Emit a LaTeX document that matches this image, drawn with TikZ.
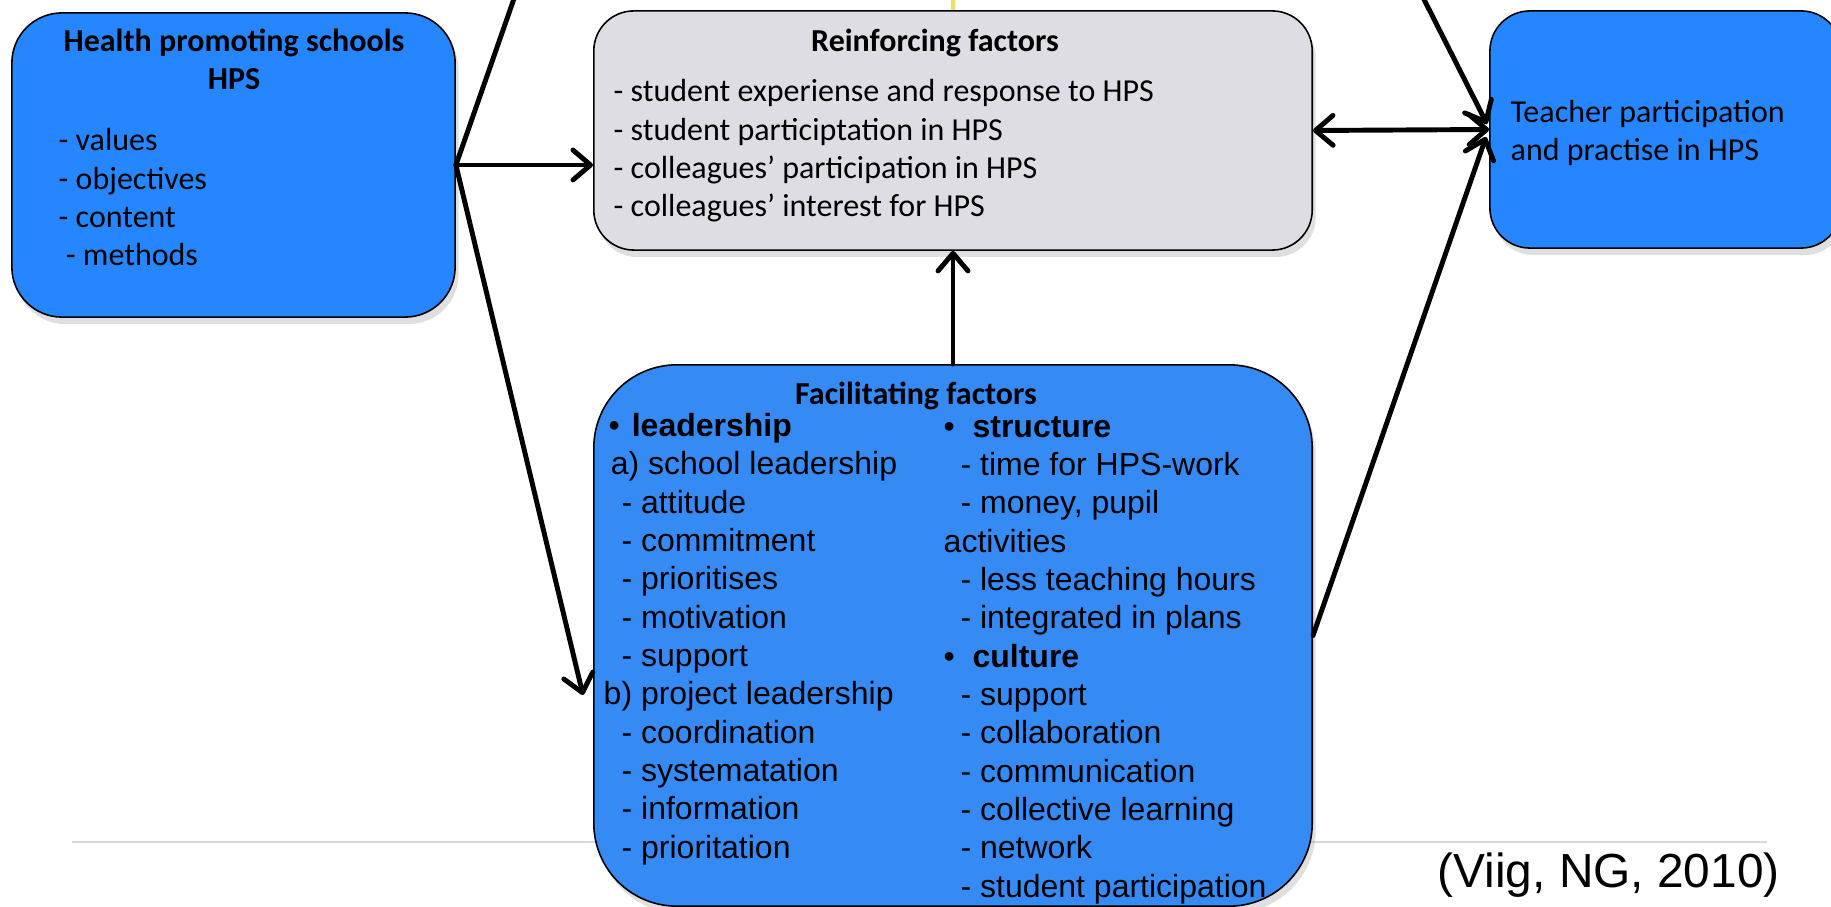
\documentclass[tikz,border=0pt]{standalone}
\usepackage{fontspec}
\setmainfont{Carlito}
\newfontfamily\arialfont{Liberation Sans}
\usetikzlibrary{arrows.meta,shadows}

\definecolor{hpsblue}{RGB}{38,134,255}
\definecolor{factblue}{RGB}{54,138,243}
\definecolor{reinfgray}{RGB}{222,221,227}
\definecolor{rulegray}{RGB}{217,217,217}
\definecolor{linkyellow}{RGB}{240,224,90}

\newcommand{\calsize}{\fontsize{9.1pt}{10.9pt}\selectfont}
\newcommand{\arsize}{\arialfont\fontsize{9.1pt}{10.9pt}\selectfont}
\newcommand{\ind}[1]{\hspace*{#1}}

\tikzset{
    >={Straight Barb[length=5pt,width=8.5pt,round]},
    box/.style={draw, line width=0.45pt, rounded corners=#1, inner sep=0pt,
        drop shadow={shadow xshift=1pt, shadow yshift=-2pt, opacity=0.25}},
    conn/.style={line width=1.4pt, line cap=round},
    % base of a multi-line node sits on its last line
    ttl/.style={inner sep=0pt, anchor=base, align=center, font=\calsize\bfseries},
    txt/.style={inner sep=0pt, anchor=base west, align=left, font=\calsize},
    artxt/.style={inner sep=0pt, anchor=base west, align=left, font=\arsize}
}

\begin{document}
\begin{tikzpicture}[x=0.01cm, y=-0.01cm]
        \useasboundingbox (0,0) rectangle (1831,907);

        % rule under the slide
        \draw[rulegray, line width=0.85pt] (72,842) -- (1767,842);

        % boxes
        \node[box=0.5cm, fill=hpsblue, minimum width=4.43cm, minimum height=3.04cm] (hps) at (233.5,165) {};
        \node[box=0.4cm, fill=reinfgray, minimum width=7.18cm, minimum height=2.39cm] (reinf) at (953,130.5) {};
        \node[box=0.4cm, fill=hpsblue, minimum width=3.51cm, minimum height=2.37cm] (teach) at (1665.5,129.5) {};
        \node[box=0.83cm, fill=factblue, minimum width=7.18cm, minimum height=5.41cm] (facil) at (953,635.5) {};

        % texts
        \node[ttl] (hpsttl) at (234,90) {Health promoting schools\\HPS};
        \node[txt] (hpslist) at (58,266) {- values\\- objectives\\- content\\~- methods};

        \node[ttl] (reinfttl) at (935,52) {Reinforcing factors};
        \node[txt] (reinflist) at (613,217) {- student experiense and response to HPS\\- student participtation in HPS\\- colleagues’ participation in HPS\\- colleagues’ interest for HPS};

        \node[txt] (teachtxt) at (1510,161) {Teacher participation\\and practise in HPS};

        \node[ttl] (facilttl) at (916,405) {Facilitating factors};
        \node[artxt] (facilleft) at (603,858) {\ind{1.4pt}\makebox[6.6pt][l]{•}\textbf{leadership}\\
            \ind{2pt}a) school leadership\\
            \ind{5.1pt}- attitude\\
            \ind{5.1pt}- commitment\\
            \ind{5.1pt}- prioritises\\
            \ind{5.1pt}- motivation\\
            \ind{5.1pt}- support\\
            b) project leadership\\
            \ind{5.1pt}- coordination\\
            \ind{5.1pt}- systematation\\
            \ind{5.1pt}- information\\
            \ind{5.1pt}- prioritation};
        \node[artxt] (facilright) at (943,897) {\makebox[8.2pt][l]{•}\textbf{structure}\\
            \ind{4.8pt}- time for HPS-work\\
            \ind{4.8pt}- money, pupil\\
            activities\\
            \ind{4.8pt}- less teaching hours\\
            \ind{4.8pt}- integrated in plans\\
            \makebox[8.2pt][l]{•}\textbf{culture}\\
            \ind{4.8pt}- support\\
            \ind{4.8pt}- collaboration\\
            \ind{4.8pt}- communication\\
            \ind{4.8pt}- collective learning\\
            \ind{4.8pt}- network\\
            \ind{4.8pt}- student participation};

        \node[inner sep=0pt, anchor=base west, font=\arialfont\fontsize{13.6pt}{16pt}\selectfont] (cite) at (1437,887) {(Viig, NG, 2010)};

        % connector ends
        \coordinate (upL) at (531,-50);
        \coordinate (upR) at (1399,-50);
        \coordinate (upM) at (953,-30);
        \coordinate (facilin) at (583,695);
        \coordinate (teachin1) at (1487,124);
        \coordinate (teachin2) at (1486,137);

        \draw[conn] (hps.east) -- (upL);
        \draw[conn] (hps.east) edge[->] (hps.east -| reinf.west)
              (hps.east) edge[->] (facilin)
              (facil.north) edge[->] (reinf.south)
              (reinf.east) edge[<->] (teach.west)
              (upR) edge[->] (teachin1)
              (facil.east) edge[->] (teachin2);
        \draw[linkyellow, line width=1.2pt] (reinf.north) -- (upM);
    \end{tikzpicture}
\end{document}
